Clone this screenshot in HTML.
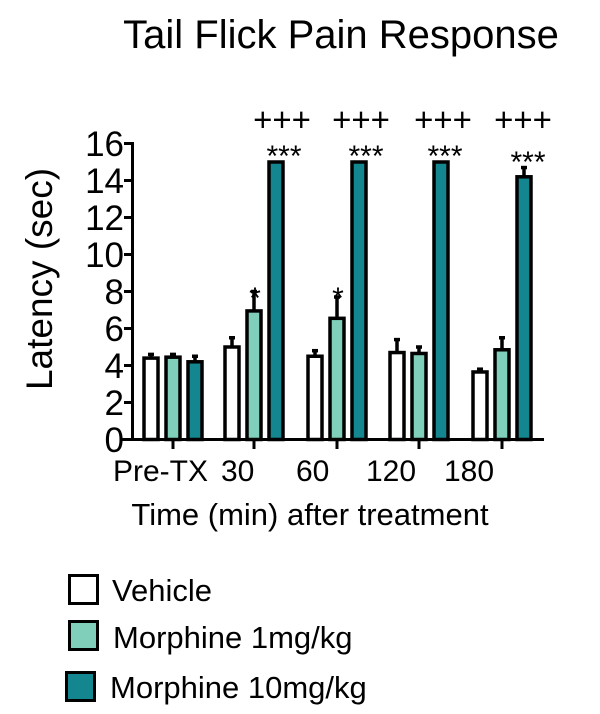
<!DOCTYPE html>
<html><head><meta charset="utf-8"><style>
html,body{margin:0;padding:0;background:#fff;}
svg{display:block;font-family:"Liberation Sans",Arial,sans-serif;}
</style></head><body>
<svg width="600" height="714" viewBox="0 0 600 714" xmlns="http://www.w3.org/2000/svg">
<text x="341" y="48" font-size="40" text-anchor="middle">Tail Flick Pain Response</text>
<text transform="translate(52,279) rotate(-90)" font-size="37" text-anchor="middle">Latency (sec)</text>
<g font-size="35" text-anchor="end">
<text x="124" y="452">0</text><text x="124" y="415">2</text><text x="124" y="378">4</text><text x="124" y="341">6</text><text x="124" y="304">8</text><text x="124" y="267">10</text><text x="124" y="230">12</text><text x="124" y="193">14</text><text x="124" y="156">16</text>
</g>
<g stroke="#000" stroke-width="3">
<line x1="132.5" y1="142" x2="132.5" y2="440"/>
<line x1="122" y1="439.5" x2="544" y2="439.5"/>
<line x1="124" y1="143.5" x2="132" y2="143.5"/><line x1="124" y1="180.5" x2="132" y2="180.5"/><line x1="124" y1="217.5" x2="132" y2="217.5"/><line x1="124" y1="254.5" x2="132" y2="254.5"/><line x1="124" y1="291.5" x2="132" y2="291.5"/><line x1="124" y1="328.5" x2="132" y2="328.5"/><line x1="124" y1="365.5" x2="132" y2="365.5"/><line x1="124" y1="402.5" x2="132" y2="402.5"/>
<line x1="173" y1="440" x2="173" y2="449"/><line x1="254" y1="440" x2="254" y2="449"/><line x1="337" y1="440" x2="337" y2="449"/><line x1="419" y1="440" x2="419" y2="449"/><line x1="502" y1="440" x2="502" y2="449"/>
</g>
<g id="bars" stroke="#000" stroke-width="3.5"></g>
<g font-size="30">
<text x="113" y="481">Pre-TX</text><text x="221" y="481">30</text><text x="296" y="481">60</text><text x="366" y="481">120</text><text x="444" y="481">180</text>
</g>
<text x="310" y="525" font-size="31" text-anchor="middle">Time (min) after treatment</text>
<g font-size="33" text-anchor="middle">
<text x="282" y="131">+++</text><text x="361" y="131">+++</text><text x="443" y="131">+++</text><text x="523" y="131">+++</text>
</g>
<g font-size="30" text-anchor="middle">
<text x="284" y="166">***</text><text x="366" y="166">***</text><text x="445" y="166">***</text><text x="528" y="172">***</text>
<text x="255" y="308">*</text><text x="338" y="308">*</text>
</g>
<rect x="69.5" y="575.5" width="28" height="28" fill="#fff" stroke="#000" stroke-width="3"/>
<rect x="69.5" y="621.5" width="28" height="28" fill="#7fcfbb" stroke="#000" stroke-width="3"/>
<rect x="66.5" y="672.5" width="28" height="28" fill="#14868f" stroke="#000" stroke-width="3"/>
<g font-size="31">
<text x="112" y="601">Vehicle</text><text x="113" y="648">Morphine 1mg/kg</text><text x="110" y="698">Morphine 10mg/kg</text>
</g>
<script>
var y0=439.5,s=18.5,g=document.getElementById('bars'),ns='http://www.w3.org/2000/svg';
var cx=[173,254,337,419,502],cols=['#fff','#7fcfbb','#14868f'];
var d=[[[4.4,4.6],[4.45,4.6],[4.2,4.5]],[[5.0,5.5],[6.95,8.0],[15,15]],[[4.5,4.8],[6.55,7.7],[15,15]],[[4.7,5.4],[4.65,5.0],[15,15]],[[3.65,3.8],[4.85,5.5],[14.2,14.7]]];
for(var i=0;i<5;i++)for(var j=0;j<3;j++){var x=cx[i]+(j-1)*22,v=d[i][j][0],e=d[i][j][1];
if(e>v){var l=document.createElementNS(ns,'line');l.setAttribute('x1',x);l.setAttribute('x2',x);l.setAttribute('y1',y0-v*s);l.setAttribute('y2',y0-e*s);g.appendChild(l);
var c=document.createElementNS(ns,'line');c.setAttribute('x1',x-3);c.setAttribute('x2',x+3);c.setAttribute('y1',y0-e*s);c.setAttribute('y2',y0-e*s);g.appendChild(c);}
var r=document.createElementNS(ns,'rect');r.setAttribute('x',x-7);r.setAttribute('width',14);r.setAttribute('y',y0-v*s);r.setAttribute('height',v*s);r.setAttribute('fill',cols[j]);g.appendChild(r);}
</script>
</svg>
</body></html>
